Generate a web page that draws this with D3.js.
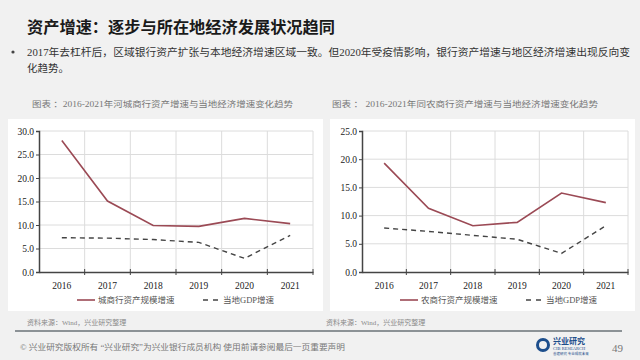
<!DOCTYPE html>
<html>
<head>
<meta charset="utf-8">
<script src="https://cdn.jsdelivr.net/npm/d3@7"></script>
<style>
  html, body { margin: 0; padding: 0; background: #f1f1f1; }
  svg { display: block; font-family: "Liberation Serif", "Noto Sans CJK SC", serif; }
</style>
</head>
<body>
<svg id="chart" width="640" height="360"></svg>
<script>
var years = ['2016', '2017', '2018', '2019', '2020', '2021'];

// left panel: city commercial banks
var cityBankGrowth = [28.0, 15.1, 9.9, 9.7, 11.4, 10.3];
var cityGdpGrowth = [7.3, 7.2, 6.9, 6.3, 2.9, 7.8];
var cityTicks = [0, 5, 10, 15, 20, 25, 30];

// right panel: rural commercial banks
var ruralBankGrowth = [19.3, 11.3, 8.2, 8.8, 14.0, 12.3];
var ruralGdpGrowth = [7.8, 7.2, 6.5, 5.8, 3.3, 8.2];
var ruralTicks = [0, 5, 10, 15, 20, 25];

var svg = d3.select('#chart');

// page header
svg.append('text')
    .attr('x', 27).attr('y', 33)
    .attr('font-size', 16).attr('font-weight', 'bold').attr('fill', '#1a1a1a')
    .attr('font-family', '"Noto Sans CJK SC", serif')
    .attr('textLength', 308).attr('lengthAdjust', 'spacingAndGlyphs')
    .text('资产增速：逐步与所在地经济发展状况趋同');

svg.append('circle').attr('cx', 13).attr('cy', 52).attr('r', 1.6).attr('fill', '#444');
svg.append('text')
    .attr('x', 27).attr('y', 56)
    .attr('font-size', 10.5).attr('fill', '#333')
    .attr('textLength', 603).attr('lengthAdjust', 'spacingAndGlyphs')
    .text('2017年去杠杆后，区域银行资产扩张与本地经济增速区域一致。但2020年受疫情影响，银行资产增速与地区经济增速出现反向变');
svg.append('text')
    .attr('x', 27).attr('y', 72)
    .attr('font-size', 10.5).attr('fill', '#333')
    .text('化趋势。');

function drawPanel(opt) {
    var g = svg.append('g');

    g.append('text')
        .attr('x', opt.titleX).attr('y', 107)
        .attr('font-size', 8.5).attr('fill', '#777')
        .attr('textLength', opt.titleW).attr('lengthAdjust', 'spacingAndGlyphs')
        .text(opt.title);

    g.append('rect')
        .attr('x', opt.panelX).attr('y', 119)
        .attr('width', opt.panelW).attr('height', 192)
        .attr('fill', '#ffffff');

    var x = d3.scaleBand().domain(years).range([opt.left, opt.right]);
    var y = d3.scaleLinear().domain([0, d3.max(opt.ticks)]).range([272, 131]);

    // grid
    g.selectAll('.hgrid').data(opt.ticks.slice(1)).enter().append('line')
        .attr('x1', opt.left).attr('x2', opt.right)
        .attr('y1', function(d) { return y(d); }).attr('y2', function(d) { return y(d); })
        .attr('stroke', '#dcdcdc').attr('stroke-width', 1);
    g.selectAll('.vgrid').data(years).enter().append('line')
        .attr('x1', function(d, i) { return opt.left + x.step() * (i + 1); })
        .attr('x2', function(d, i) { return opt.left + x.step() * (i + 1); })
        .attr('y1', y.range()[1]).attr('y2', y.range()[0])
        .attr('stroke', '#dcdcdc').attr('stroke-width', 1);

    // axes
    var yAxis = d3.axisLeft(y).tickValues(opt.ticks).tickFormat(d3.format('.1f')).tickSize(3).tickPadding(2);
    var ya = g.append('g').attr('transform', 'translate(' + opt.left + ',0)').call(yAxis);
    ya.select('.domain').attr('stroke', '#444').attr('stroke-width', 1.5);
    ya.selectAll('.tick line').attr('stroke', '#444');
    ya.selectAll('text').attr('font-size', 9.5).attr('fill', '#222').attr('font-family', '"Liberation Serif", serif');

    var xAxis = d3.axisBottom(x).tickSize(0).tickPadding(10);
    var xa = g.append('g').attr('transform', 'translate(0,272)').call(xAxis);
    xa.select('.domain').attr('stroke', '#444').attr('stroke-width', 1.5);
    xa.selectAll('text').attr('font-size', 9.5).attr('fill', '#222').attr('font-family', '"Liberation Serif", serif');
    xa.selectAll('.xtick').data(years).enter().append('line')
        .attr('x1', function(d, i) { return opt.left + x.step() * (i + 1); })
        .attr('x2', function(d, i) { return opt.left + x.step() * (i + 1); })
        .attr('y1', -3).attr('y2', 3)
        .attr('stroke', '#444');

    var line = d3.line()
        .x(function(d, i) { return x(years[i]) + x.bandwidth() / 2; })
        .y(function(d) { return y(d); });

    g.append('path').datum(opt.bank)
        .attr('d', line).attr('fill', 'none')
        .attr('stroke', '#9b4a55').attr('stroke-width', 1.6);
    g.append('path').datum(opt.gdp)
        .attr('d', line).attr('fill', 'none')
        .attr('stroke', '#444').attr('stroke-width', 1.4)
        .attr('stroke-dasharray', '5,4');

    // legend
    var ly = 300;
    g.append('line').attr('x1', opt.legendX).attr('x2', opt.legendX + 18)
        .attr('y1', ly).attr('y2', ly).attr('stroke', '#9b4a55').attr('stroke-width', 1.6);
    g.append('text').attr('x', opt.legendX + 21).attr('y', ly + 3)
        .attr('font-size', 8.5).attr('fill', '#555').text(opt.bankName);
    g.append('line').attr('x1', opt.legendX + 126).attr('x2', opt.legendX + 141)
        .attr('y1', ly).attr('y2', ly).attr('stroke', '#444').attr('stroke-width', 1.4)
        .attr('stroke-dasharray', '5,5');
    g.append('text').attr('x', opt.legendX + 146).attr('y', ly + 3)
        .attr('font-size', 8.5).attr('fill', '#555').text('当地GDP增速');

    g.append('text')
        .attr('x', opt.sourceX).attr('y', 325)
        .attr('font-size', 7).attr('fill', '#888')
        .text('资料来源：Wind，兴业研究整理');
}

drawPanel({
    title: '图表 ：2016-2021年河城商行资产增速与当地经济增速变化趋势',
    titleX: 32, titleW: 261, panelX: 8, panelW: 315,
    left: 39, right: 313, ticks: cityTicks,
    bank: cityBankGrowth, gdp: cityGdpGrowth,
    bankName: '城商行资产规模增速', legendX: 77, sourceX: 27
});
drawPanel({
    title: '图表 ：  2016-2021年同农商行资产增速与当地经济增速变化趋势',
    titleX: 332, titleW: 266, panelX: 330, panelW: 305,
    left: 362, right: 628, ticks: ruralTicks,
    bank: ruralBankGrowth, gdp: ruralGdpGrowth,
    bankName: '农商行资产规模增速', legendX: 400, sourceX: 326
});

// footer
svg.append('line').attr('x1', 15).attr('x2', 622).attr('y1', 331).attr('y2', 331)
    .attr('stroke', '#8c9296').attr('stroke-width', 2);
svg.append('text').attr('x', 20).attr('y', 350)
    .attr('font-size', 7.5).attr('fill', '#777')
    .attr('textLength', 325).attr('lengthAdjust', 'spacingAndGlyphs')
    .text('© 兴业研究版权所有   “兴业研究”为兴业银行成员机构   使用前请参阅最后一页重要声明');
svg.append('circle').attr('cx', 543).attr('cy', 345).attr('r', 5.5)
    .attr('fill', 'none').attr('stroke', '#1d4e8c').attr('stroke-width', 3);
svg.append('text').attr('x', 553).attr('y', 344)
    .attr('font-size', 8).attr('fill', '#1d4e8c').attr('font-weight', 'bold')
    .attr('font-family', '"Noto Sans CJK SC", sans-serif')
    .text('兴业研究');
svg.append('text').attr('x', 553).attr('y', 350)
    .attr('font-size', 4.5).attr('fill', '#1d4e8c')
    .text('CIB RESEARCH');
svg.append('text').attr('x', 553).attr('y', 355)
    .attr('font-size', 3.5).attr('fill', '#1d4e8c')
    .text('善建研究 专业成就未来');
svg.append('text').attr('x', 612).attr('y', 352)
    .attr('font-size', 11).attr('fill', '#777')
    .text('49');
</script>
</body>
</html>
